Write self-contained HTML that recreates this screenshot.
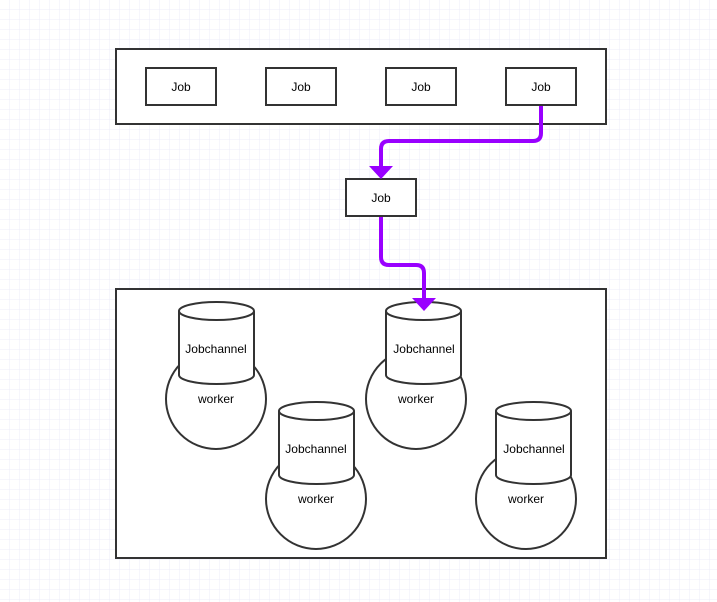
<!DOCTYPE html>
<html><head><style>
html,body{margin:0;padding:0;background:#fff}
svg{display:block}
text{font-family:"Liberation Sans",Arial,sans-serif;font-size:12px;fill:#000}
</style></head><body>
<svg width="717" height="602" viewBox="0 0 717 602" xmlns="http://www.w3.org/2000/svg">
<defs>
<pattern id="g" width="10" height="10" patternUnits="userSpaceOnUse">
<path d="M10 0V10M0 10H10" fill="none" stroke="#ececf8" stroke-width="1"/>
</pattern>
</defs>
<rect width="717" height="602" fill="url(#g)"/>
<g fill="#fff" stroke="#333" stroke-width="2">
<rect x="116" y="49" width="490" height="75"/>
<rect x="146" y="68" width="70" height="37"/>
<rect x="266" y="68" width="70" height="37"/>
<rect x="386" y="68" width="70" height="37"/>
<rect x="506" y="68" width="70" height="37"/>
<rect x="346" y="179" width="70" height="37"/>
<rect x="116" y="289" width="490" height="269"/>
<circle cx="216" cy="399" r="50"/>
<circle cx="316" cy="499" r="50"/>
<circle cx="416" cy="399" r="50"/>
<circle cx="526" cy="499" r="50"/>
<path d="M179 311 A37.5 9 0 0 1 254 311 V375 A37.5 9 0 0 1 179 375 Z M179 311 A37.5 9 0 0 0 254 311"/>
<path d="M279 411 A37.5 9 0 0 1 354 411 V475 A37.5 9 0 0 1 279 475 Z M279 411 A37.5 9 0 0 0 354 411"/>
<path d="M386 311 A37.5 9 0 0 1 461 311 V375 A37.5 9 0 0 1 386 375 Z M386 311 A37.5 9 0 0 0 461 311"/>
<path d="M496 411 A37.5 9 0 0 1 571 411 V475 A37.5 9 0 0 1 496 475 Z M496 411 A37.5 9 0 0 0 571 411"/>
</g>
<g fill="none" stroke="#9900ff" stroke-width="4">
<path d="M541 106 V133 Q541 141 533 141 H389 Q381 141 381 149 V168"/>
<path d="M381 217 V257 Q381 265 389 265 H416 Q424 265 424 273 V300"/>
</g>
<g fill="#9900ff">
<polygon points="369,166 393,166 381,179"/>
<polygon points="412,298 436,298 424,311"/>
</g>
<g text-anchor="middle">
<text x="181" y="91">Job</text>
<text x="301" y="91">Job</text>
<text x="421" y="91">Job</text>
<text x="541" y="91">Job</text>
<text x="381" y="202">Job</text>
<text x="216" y="353">Jobchannel</text>
<text x="216" y="403">worker</text>
<text x="316" y="453">Jobchannel</text>
<text x="316" y="503">worker</text>
<text x="424" y="353">Jobchannel</text>
<text x="416" y="403">worker</text>
<text x="534" y="453">Jobchannel</text>
<text x="526" y="503">worker</text>
</g>
</svg>
</body></html>
